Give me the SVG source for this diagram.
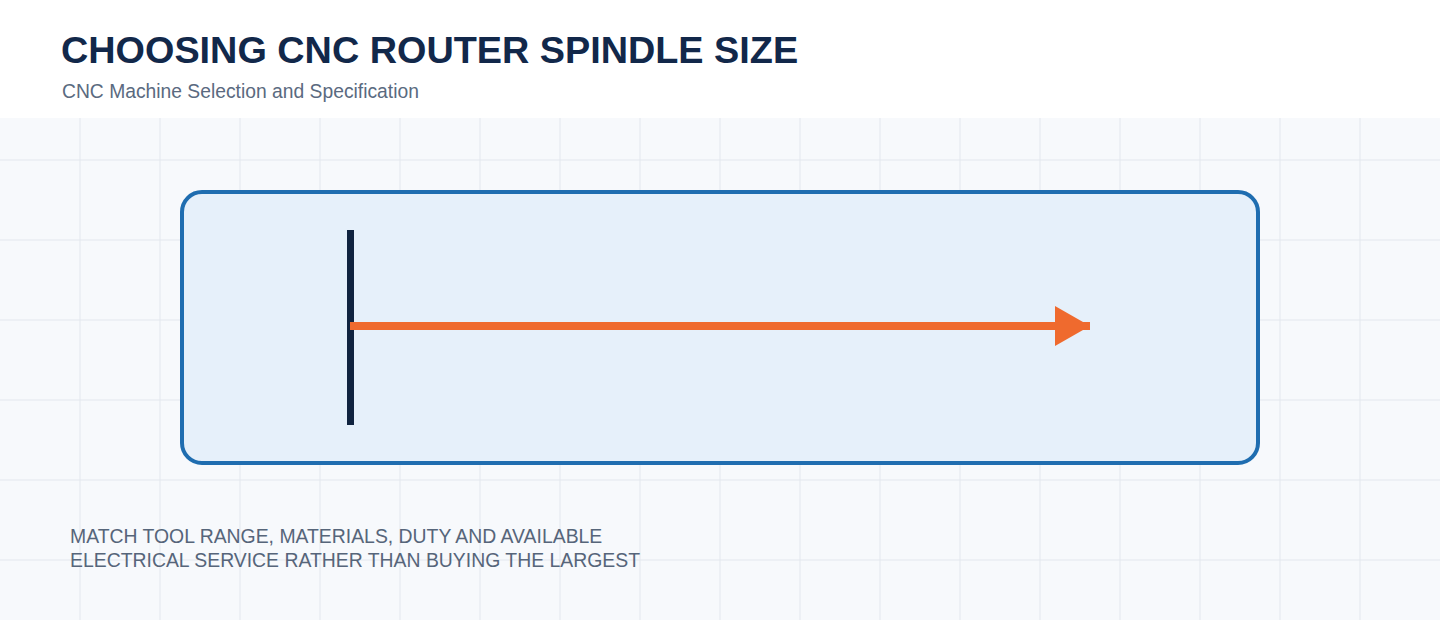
<svg xmlns="http://www.w3.org/2000/svg" width="1440" height="620" viewBox="0 0 1440 620">
<defs>
<style>
.grid line{stroke:#e3e7ee;stroke-width:1}
.title{font-family:"Liberation Sans",Arial,sans-serif;font-weight:bold;font-size:37.8px;fill:#12284a}
.sub{font-family:"Liberation Sans",Arial,sans-serif;font-size:19.3px;fill:#5a6a80}
.note{font-family:"Liberation Sans",Arial,sans-serif;font-size:19.4px;fill:#56657a}
</style>
<marker id="arr" viewBox="0 0 10 10" refX="10" refY="5" markerWidth="4.4" markerHeight="5" markerUnits="strokeWidth" orient="auto" preserveAspectRatio="none">
<path d="M0,0 L10,5 L0,10 Z" fill="#ef6a2e"/>
</marker>
</defs>
<rect x="0" y="0" width="1440" height="620" fill="#ffffff"/>
<rect x="0" y="118" width="1440" height="502" fill="#f7f9fc"/>
<g class="grid">
<line x1="80" y1="118" x2="80" y2="620"/><line x1="160" y1="118" x2="160" y2="620"/><line x1="240" y1="118" x2="240" y2="620"/><line x1="320" y1="118" x2="320" y2="620"/><line x1="400" y1="118" x2="400" y2="620"/><line x1="480" y1="118" x2="480" y2="620"/><line x1="560" y1="118" x2="560" y2="620"/><line x1="640" y1="118" x2="640" y2="620"/><line x1="720" y1="118" x2="720" y2="620"/><line x1="800" y1="118" x2="800" y2="620"/><line x1="880" y1="118" x2="880" y2="620"/><line x1="960" y1="118" x2="960" y2="620"/><line x1="1040" y1="118" x2="1040" y2="620"/><line x1="1120" y1="118" x2="1120" y2="620"/><line x1="1200" y1="118" x2="1200" y2="620"/><line x1="1280" y1="118" x2="1280" y2="620"/><line x1="1360" y1="118" x2="1360" y2="620"/>
<line x1="0" y1="160" x2="1440" y2="160"/><line x1="0" y1="240" x2="1440" y2="240"/><line x1="0" y1="320" x2="1440" y2="320"/><line x1="0" y1="400" x2="1440" y2="400"/><line x1="0" y1="480" x2="1440" y2="480"/><line x1="0" y1="560" x2="1440" y2="560"/>
</g>
<text class="title" x="61" y="63">CHOOSING CNC ROUTER SPINDLE SIZE</text>
<text class="sub" x="62" y="98">CNC Machine Selection and Specification</text>
<g id="panel">
<rect x="182" y="192" width="1076" height="271" rx="20" ry="20" fill="#e6f0fa" stroke="#1f6db0" stroke-width="4"/>
</g>
<g id="bar">
<rect x="347" y="230" width="7" height="195" fill="#10233f"/>
</g>
<g id="connectors">
<line x1="350" y1="326" x2="1090" y2="326" stroke="#ef6a2e" stroke-width="8" marker-end="url(#arr)"/>
</g>
<g id="note">
<text class="note" x="70" y="543">MATCH TOOL RANGE, MATERIALS, DUTY AND AVAILABLE</text>
<text class="note" x="70" y="567">ELECTRICAL SERVICE RATHER THAN BUYING THE LARGEST</text>
</g>
</svg>
